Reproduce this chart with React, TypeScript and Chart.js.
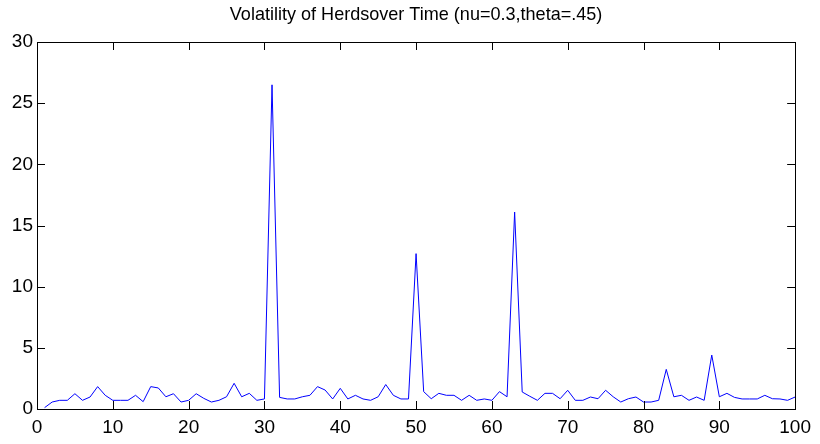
import React, { useEffect, useRef } from "react";
import { Chart, registerables } from "chart.js";

Chart.register(...registerables);

// Volatility of herds at each time step (t = 1..100)
const volatility: number[] = [
  0.11, 0.57, 0.71, 0.71, 1.25, 0.71, 0.98, 1.83, 1.12, 0.71,
  0.71, 0.71, 1.12, 0.6, 1.83, 1.72, 1.0, 1.25, 0.57, 0.71,
  1.25, 0.87, 0.57, 0.71, 1.0, 2.1, 1.0, 1.28, 0.71, 0.82,
  26.5, 0.95, 0.82, 0.82, 1.0, 1.12, 1.83, 1.55, 0.82, 1.69,
  0.82, 1.12, 0.82, 0.71, 1.0, 2.0, 1.12, 0.82, 0.82, 12.7,
  1.42, 0.84, 1.28, 1.12, 1.12, 0.71, 1.12, 0.71, 0.82, 0.71,
  1.42, 1.0, 16.1, 1.39, 1.04, 0.71, 1.28, 1.28, 0.84, 1.53,
  0.71, 0.71, 0.98, 0.84, 1.53, 1.0, 0.57, 0.84, 0.98, 0.57,
  0.57, 0.71, 3.24, 1.0, 1.12, 0.71, 0.98, 0.71, 4.41, 1.0,
  1.28, 0.95, 0.82, 0.82, 0.82, 1.12, 0.84, 0.82, 0.71, 0.98,
];
const timeSteps: number[] = volatility.map((_, i) => i + 1);

const xTicks: number[] = [0, 10, 20, 30, 40, 50, 60, 70, 80, 90, 100];
const yTicks: number[] = [0, 5, 10, 15, 20, 25, 30];

const chartTitle = "Volatility of Herdsover Time (nu=0.3,theta=.45)";

// Slightly condensed title centred over the plot area
const condensedTitle = {
  id: "condensedTitle",
  afterDraw(chart: any) {
    const { ctx, chartArea } = chart;
    const cx = (chartArea.left + chartArea.right) / 2;
    ctx.save();
    ctx.font = "19px Arial, 'Liberation Sans', sans-serif";
    ctx.fillStyle = "#000";
    ctx.textAlign = "center";
    ctx.textBaseline = "middle";
    ctx.translate(cx, 15);
    ctx.scale(0.95, 1);
    ctx.fillText(chartTitle, 0, 0);
    ctx.restore();
  },
};

// Box around the axes with inward tick marks on all four sides
const boxTicks = {
  id: "boxTicks",
  afterDraw(chart: any) {
    const { ctx, chartArea } = chart;
    const { left, right, top, bottom } = chartArea;
    const xs = chart.scales.x;
    const ys = chart.scales.y;
    const len = 8;
    ctx.save();
    ctx.strokeStyle = "#000";
    ctx.lineWidth = 1;
    ctx.beginPath();
    for (const v of xTicks) {
      const px = Math.round(xs.getPixelForValue(v)) + 0.5;
      ctx.moveTo(px, bottom);
      ctx.lineTo(px, bottom - len);
      ctx.moveTo(px, top);
      ctx.lineTo(px, top + len);
    }
    for (const v of yTicks) {
      const py = Math.round(ys.getPixelForValue(v)) + 0.5;
      ctx.moveTo(left, py);
      ctx.lineTo(left + len, py);
      ctx.moveTo(right, py);
      ctx.lineTo(right - len, py);
    }
    ctx.stroke();
    ctx.strokeRect(
      Math.round(left) + 0.5,
      Math.round(top) + 0.5,
      Math.round(right - left),
      Math.round(bottom - top)
    );
    ctx.restore();
  },
};

export default function App() {
  const canvasRef = useRef<HTMLCanvasElement | null>(null);

  useEffect(() => {
    if (!canvasRef.current) return;
    const tickFont = { family: "Arial, 'Liberation Sans', sans-serif", size: 19, lineHeight: 1 };
    const chart = new Chart(canvasRef.current, {
      type: "line",
      data: {
        datasets: [
          {
            data: timeSteps.map((t, i) => ({ x: t, y: volatility[i] })),
            borderColor: "#0000ff",
            borderWidth: 1,
            pointRadius: 0,
            tension: 0,
            fill: false,
          },
        ],
      },
      options: {
        animation: false,
        responsive: true,
        maintainAspectRatio: false,
        layout: { padding: { left: 0, right: 22, top: 42, bottom: 0 } },
        plugins: {
          legend: { display: false },
          tooltip: { enabled: false },
          title: { display: false },
        },
        scales: {
          x: {
            type: "linear",
            min: 0,
            max: 100,
            grid: { display: false, drawTicks: false },
            border: { display: false },
            afterBuildTicks: (scale: any) => {
              scale.ticks = xTicks.map((v) => ({ value: v }));
            },
            afterFit: (scale: any) => {
              scale.height = 35;
            },
            ticks: {
              color: "#000",
              font: tickFont,
              padding: 9,
              maxRotation: 0,
              autoSkip: false,
            },
          },
          y: {
            type: "linear",
            min: 0,
            max: 30,
            grid: { display: false, drawTicks: false },
            border: { display: false },
            afterBuildTicks: (scale: any) => {
              scale.ticks = yTicks.map((v) => ({ value: v }));
            },
            afterFit: (scale: any) => {
              scale.width = 37;
            },
            ticks: {
              color: "#000",
              font: tickFont,
              padding: 4,
              autoSkip: false,
            },
          },
        },
      },
      plugins: [boxTicks, condensedTitle],
    });
    return () => chart.destroy();
  }, []);

  return (
    <div
      style={{
        position: "fixed",
        left: 0,
        top: 0,
        width: 820,
        height: 444,
        background: "#fff",
      }}
    >
      <canvas ref={canvasRef} />
    </div>
  );
}
